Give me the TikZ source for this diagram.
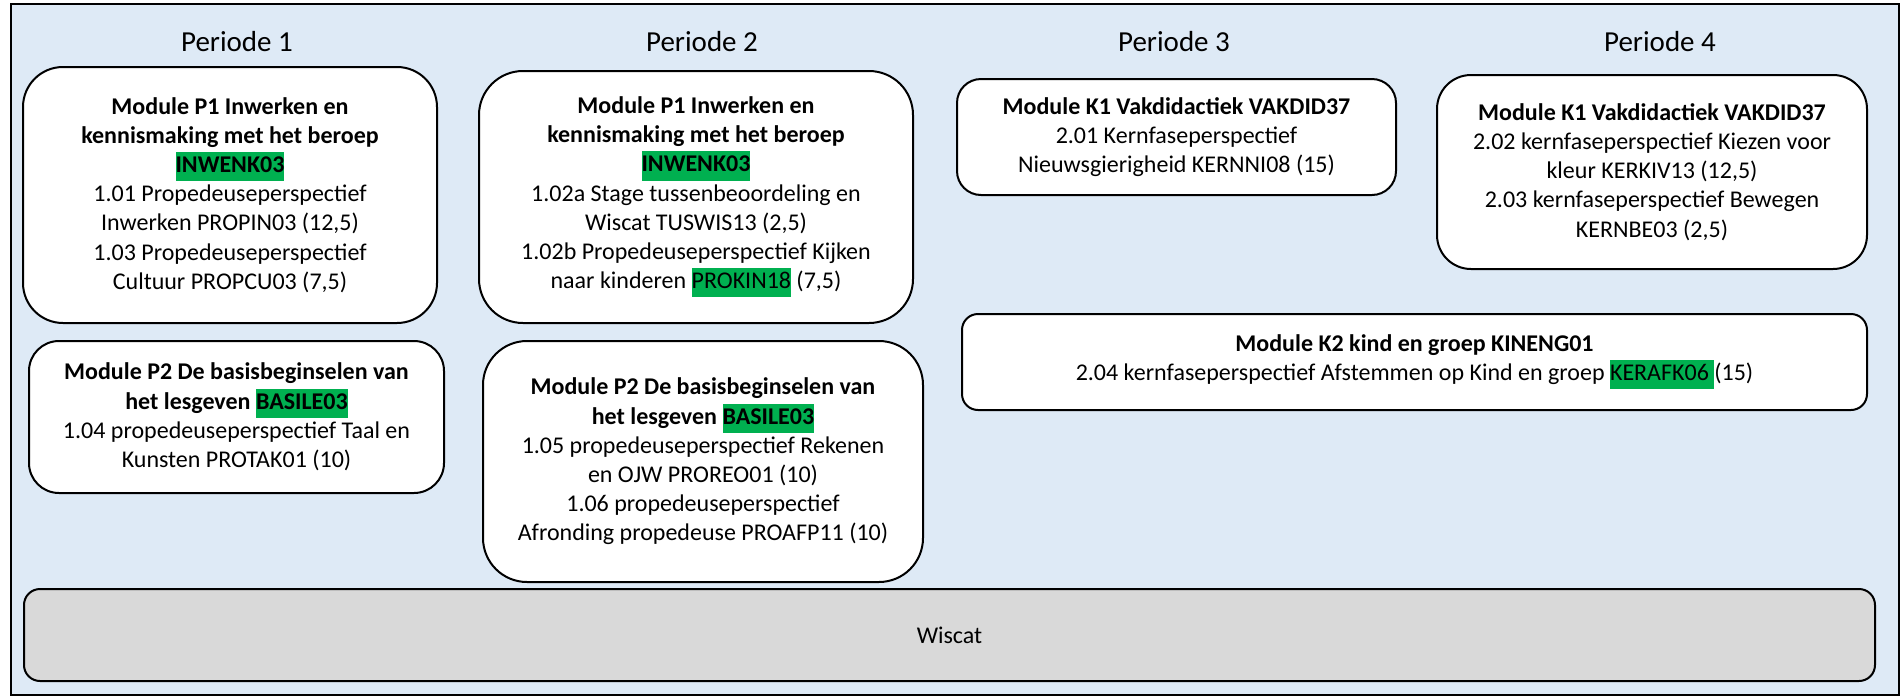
\documentclass[tikz,border=0pt]{standalone}
\usepackage{fontspec}
\setmainfont{Carlito}

\definecolor{jaarblue}{RGB}{222,234,246}
\definecolor{codegreen}{RGB}{0,176,80}
\definecolor{wiscatgrey}{RGB}{217,217,217}
\newcommand{\hlcode}[1]{{\setlength{\fboxsep}{0pt}\colorbox{codegreen}{\strut #1}}}

\begin{document}
\begin{tikzpicture}[x=0.5pt,y=-0.5pt,
  module/.style={draw=black,line width=1pt,fill=white,align=center,
    inner sep=0pt,font=\fontsize{12}{14.6}\selectfont},
  periode/.style={font=\fontsize{14.5}{17}\selectfont}]
  \useasboundingbox (0,0) rectangle (1903,697);

  % frame of the year
  \draw[line width=1pt,fill=jaarblue] (11,4) rectangle (1899,695);

  % periods
  \node[periode] (per1) at (237,42) {Periode 1};
  \node[periode] (per2) at (702,42) {Periode 2};
  \node[periode] (per3) at (1174,42) {Periode 3};
  \node[periode] (per4) at (1660,42) {Periode 4};

  % PERIODE 1
  \node[module,rounded corners=20pt,minimum width=207pt,minimum height=128pt] (modP1a) at (230,195)
    {\textbf{Module P1 Inwerken en}\\ \textbf{kennismaking met het beroep}\\ \hlcode{\textbf{INWENK03}}\\
     1.01 Propedeuseperspectief\\ Inwerken PROPIN03 (12,5)\\
     1.03 Propedeuseperspectief\\ Cultuur PROPCU03 (7,5)};
  \node[module,rounded corners=15pt,minimum width=207.5pt,minimum height=76pt] (modP2a) at (236.5,417)
    {\textbf{Module P2 De basisbeginselen van}\\ \textbf{het lesgeven \hlcode{BASILE03}}\\
     1.04 propedeuseperspectief Taal en\\ Kunsten PROTAK01 (10)};

  % PERIODE 2
  \node[module,rounded corners=22pt,minimum width=217pt,minimum height=126pt] (modP1b) at (696,197)
    {\textbf{Module P1 Inwerken en}\\ \textbf{kennismaking met het beroep}\\ \hlcode{\textbf{INWENK03}}\\
     1.02a Stage tussenbeoordeling en\\ Wiscat TUSWIS13 (2,5)\\
     1.02b Propedeuseperspectief Kijken\\ naar kinderen \hlcode{PROKIN18} (7,5)};
  \node[module,rounded corners=22pt,minimum width=220pt,minimum height=120.5pt] (modP2b) at (703,461.5)
    {\textbf{Module P2 De basisbeginselen van}\\ \textbf{het lesgeven \hlcode{BASILE03}}\\
     1.05 propedeuseperspectief Rekenen\\ en OJW PROREO01 (10)\\
     1.06 propedeuseperspectief\\ Afronding propedeuse PROAFP11 (10)};

  % PERIODE 3 and 4
  \node[module,rounded corners=12pt,minimum width=219.5pt,minimum height=58pt] (modK1a) at (1176.5,137)
    {\textbf{Module K1 Vakdidactiek VAKDID37}\\ 2.01 Kernfaseperspectief\\ Nieuwsgierigheid KERNNI08 (15)};
  \node[module,rounded corners=17pt,minimum width=215pt,minimum height=97pt] (modK1b) at (1652,172)
    {\textbf{Module K1 Vakdidactiek VAKDID37}\\ 2.02 kernfaseperspectief Kiezen voor\\ kleur KERKIV13 (12,5)\\
     2.03 kernfaseperspectief Bewegen\\ KERNBE03 (2,5)};
  \node[module,rounded corners=8pt,minimum width=452.5pt,minimum height=48pt] (modK2) at (1414.5,362)
    {\textbf{Module K2 kind en groep KINENG01}\\
     2.04 kernfaseperspectief Afstemmen op Kind en groep \hlcode{KERAFK06 }(15)};

  % whole year
  \node[module,fill=wiscatgrey,rounded corners=8pt,minimum width=925.5pt,minimum height=46pt] (wiscat) at (949.5,635)
    {Wiscat};
\end{tikzpicture}
\end{document}
